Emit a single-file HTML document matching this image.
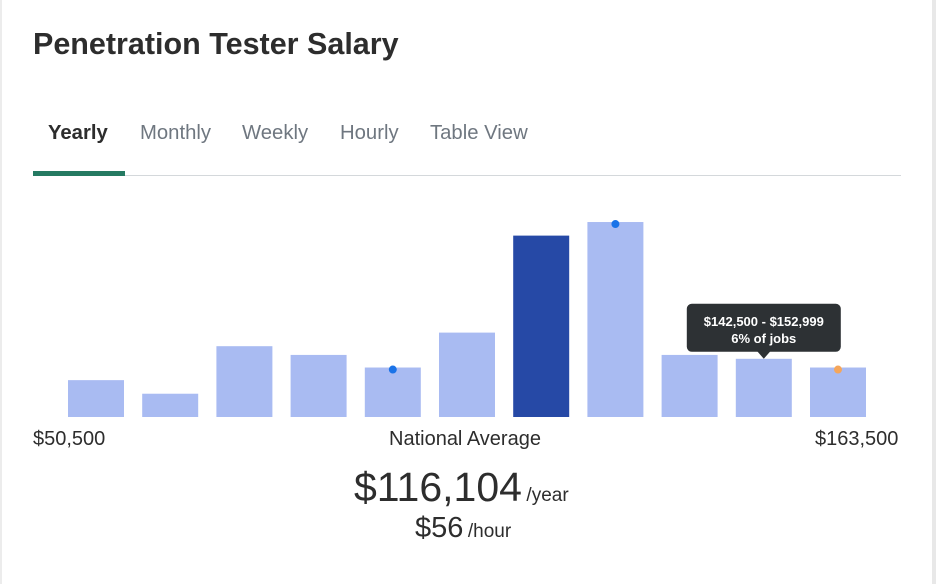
<!DOCTYPE html>
<html><head><meta charset="utf-8"><style>
body{margin:0;width:936px;height:584px;background:#fff;font-family:"Liberation Sans",Arial,sans-serif;overflow:hidden;position:relative}
.abs{position:absolute}
.border{position:absolute;left:932px;top:0;width:4px;height:584px;background:#e8e8e8}
.lborder{position:absolute;left:0;top:0;width:2px;height:584px;background:#ececec}
h1{position:absolute;left:33px;top:27px;margin:0;font-size:30.5px;font-weight:bold;color:#2d2d2d}
.tab{position:absolute;top:122px;font-size:20.3px;color:#6f7780}
.tab.active{color:#2d2d2d;font-weight:bold}
</style></head><body>
<div class="lborder"></div>
<div class="border"></div>
<h1>Penetration Tester Salary</h1>
<div class="tab active" style="left:48px">Yearly</div>
<div class="tab" style="left:140px">Monthly</div>
<div class="tab" style="left:242px">Weekly</div>
<div class="tab" style="left:340px">Hourly</div>
<div class="tab" style="left:430px">Table View</div>
<div class="abs" style="left:33px;top:175px;width:868px;height:1px;background:#d4d8db"></div>
<div class="abs" style="left:33px;top:171px;width:92px;height:5px;background:#257a62"></div>
<svg id="chart" class="abs" style="left:0;top:0" width="936" height="584"></svg>
<div class="abs" style="left:33px;top:428px;font-size:20px;color:#2d2d2d">$50,500</div>
<div class="abs" style="left:389px;top:428px;font-size:20px;color:#2d2d2d">National Average</div>
<div class="abs" style="left:815px;top:428px;font-size:20px;color:#2d2d2d">$163,500</div>
<div class="abs" style="left:354px;top:464px;color:#2d2d2d;white-space:nowrap"><span style="font-size:41px">$116,104</span> <span style="font-size:19px">/year</span></div>
<div class="abs" style="left:415px;top:512px;color:#2d2d2d;white-space:nowrap"><span style="font-size:29px">$56</span> <span style="font-size:19px">/hour</span></div>
<script>
const categories=["$50,500","$60,500","$71,000","$81,500","$92,000","$102,000","$112,500","$122,500","$132,500","$142,500","$153,000"];
const percents=[3.8,2.4,7.3,6.4,5.1,8.7,18.7,20.1,6.4,6.0,5.1];
const highlightIndex=6;
const blueDots=[4,7];
const orangeDots=[10];
const tooltipIndex=9;
const tooltipRange="$142,500 - $152,999";
const tooltipJobs="6% of jobs";
const svg=document.getElementById('chart');
const NS='http://www.w3.org/2000/svg';
const baseY=417, pxPer=9.7, x0=68, step=74.2, bw=56;
function xs(i){return x0+i*step;}
function ys(v){return baseY-v*pxPer;}
percents.forEach((v,i)=>{
  const r=document.createElementNS(NS,'rect');
  r.setAttribute('x',xs(i));r.setAttribute('y',ys(v));r.setAttribute('width',bw);r.setAttribute('height',baseY-ys(v));
  r.setAttribute('fill',i===highlightIndex?'#2649a6':'#a9bbf2');
  
  
  svg.appendChild(r);
});
function dot(i,color,name){
  const c=document.createElementNS(NS,'circle');
  c.setAttribute('cx',xs(i)+bw/2);c.setAttribute('cy',ys(percents[i])+2);c.setAttribute('r',4);c.setAttribute('fill',color);
  
  
  svg.appendChild(c);
}
blueDots.forEach(i=>dot(i,'#1a73e8','marker-dot'));
orangeDots.forEach(i=>dot(i,'#f5a65b','your-marker-dot'));
const tx=xs(tooltipIndex)+bw/2, ty=ys(percents[tooltipIndex]);
const g=document.createElementNS(NS,'g');


g.innerHTML=`<rect x="${tx-77}" y="${ty-55}" width="154" height="48" rx="5" fill="#2d3134"/><path d="M${tx-7} ${ty-8} L${tx} ${ty} L${tx+7} ${ty-8}Z" fill="#2d3134"/>
<text x="${tx}" y="${ty-33}" text-anchor="middle" font-size="13" font-weight="bold" fill="#fff" font-family="Liberation Sans, sans-serif">${tooltipRange}</text>
<text x="${tx}" y="${ty-16}" text-anchor="middle" font-size="13" font-weight="bold" fill="#fff" font-family="Liberation Sans, sans-serif">${tooltipJobs}</text>`;
svg.appendChild(g);
</script>
</body></html>
